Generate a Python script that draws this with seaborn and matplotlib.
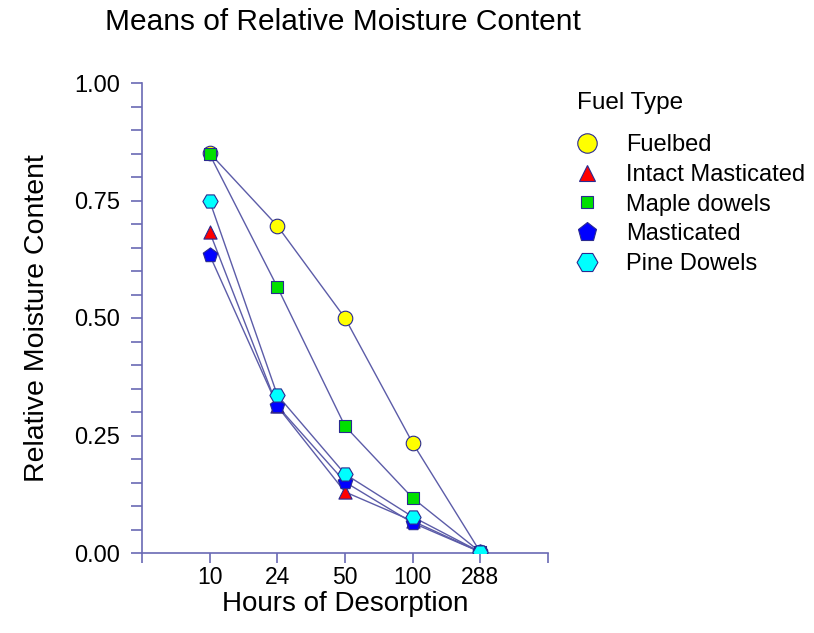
import matplotlib
matplotlib.use("Agg")
import matplotlib.pyplot as plt
import seaborn as sns
import pandas as pd
import numpy as np
from matplotlib.lines import Line2D
from matplotlib.ticker import MultipleLocator

hours = ["10", "24", "50", "100", "288"]
fuelbed = [0.851, 0.696, 0.500, 0.234, 0.002]
intact_masticated = [0.683, 0.312, 0.130, 0.068, 0.002]
maple_dowels = [0.848, 0.566, 0.270, 0.117, 0.002]
masticated = [0.634, 0.313, 0.151, 0.064, 0.002]
pine_dowels = [0.749, 0.336, 0.168, 0.077, 0.002]

series_names = ["Fuelbed", "Intact Masticated", "Maple dowels", "Masticated", "Pine Dowels"]
series_vals = [fuelbed, intact_masticated, maple_dowels, masticated, pine_dowels]
colors = ["#ffff00", "#ff0000", "#00e000", "#0000ff", "#00ffff"]
markers = ["o", "^", "s", "p", "H"]
msizes = [110, 90, 65, 120, 120]
leg_msizes = [14.0, 11.0, 8.8, 14.0, 15.0]

rows = []
for name, vals in zip(series_names, series_vals):
    for i, (h, v) in enumerate(zip(hours, vals)):
        rows.append({"Fuel Type": name, "pos": i + 1, "Hours": h, "value": v})
df = pd.DataFrame(rows)

sns.set_style("white")
plt.rcParams["font.family"] = ["Liberation Sans", "DejaVu Sans"]
plt.rcParams["text.color"] = "black"
plt.rcParams["axes.labelcolor"] = "black"

fig = plt.figure(figsize=(8.14, 6.33), dpi=100)
ax = fig.add_axes([142 / 814, 80 / 633, (548 - 142) / 814, (553 - 83) / 633])

line_col = "#5c5ca8"
axis_col = "#6a6ab4"
edge_col = "#2a2a90"

sns.lineplot(data=df, x="pos", y="value", units="Fuel Type", estimator=None,
             color=line_col, linewidth=1.0, ax=ax, legend=False, zorder=2)

for name, c, m, s in zip(series_names, colors, markers, msizes):
    sub = df[df["Fuel Type"] == name]
    sns.scatterplot(data=sub, x="pos", y="value", marker=m, s=s, color=c,
                    edgecolor=edge_col, linewidth=0.8, ax=ax, zorder=3, legend=False)

ax.set_xlim(0, 6)
ax.set_ylim(0, 1.0)
ax.set_xticks(range(0, 7))
ax.set_xticklabels([""] + hours + [""])
ax.set_yticks([0, 0.25, 0.5, 0.75, 1.0])
ax.set_yticklabels(["0.00", "0.25", "0.50", "0.75", "1.00"])
ax.yaxis.set_minor_locator(MultipleLocator(0.05))

for side in ["top", "right"]:
    ax.spines[side].set_visible(False)
for side in ["left", "bottom"]:
    ax.spines[side].set_color(axis_col)
    ax.spines[side].set_linewidth(1.2)

ax.tick_params(axis="both", which="both", direction="out", color=axis_col, width=1.2,
               labelcolor="black", bottom=True, left=True)
ax.tick_params(axis="y", which="major", length=8, pad=8, labelsize=17)
ax.tick_params(axis="y", which="minor", length=8)
ax.tick_params(axis="x", which="major", length=7, pad=2, labelsize=16.5)

ax.set_xlabel("Hours of Desorption", fontsize=20, labelpad=2, color="black")
ax.set_ylabel("Relative Moisture Content", fontsize=20.5, labelpad=17, color="black")

fig.text(105 / 814, 1 - 22 / 633, "Means of Relative Moisture Content", fontsize=21.5,
         ha="left", va="center", color="black")

fig.text(577 / 814, 1 - 103 / 633, "Fuel Type", fontsize=17.5, ha="left", va="center",
         color="black")

handles = [Line2D([0], [0], marker=m, linestyle="none", markerfacecolor=c,
                  markeredgecolor=edge_col, markeredgewidth=0.8,
                  markersize=ms)
           for c, m, ms in zip(colors, markers, leg_msizes)]
leg = fig.legend(handles, series_names, loc="upper left",
                 bbox_to_anchor=(568 / 814, 1 - 134 / 633), frameon=False,
                 fontsize=17, handletextpad=0.85, handlelength=1.6,
                 labelspacing=0.33, borderaxespad=0, borderpad=0, labelcolor="black")

fig.savefig("out.png", dpi=100)
